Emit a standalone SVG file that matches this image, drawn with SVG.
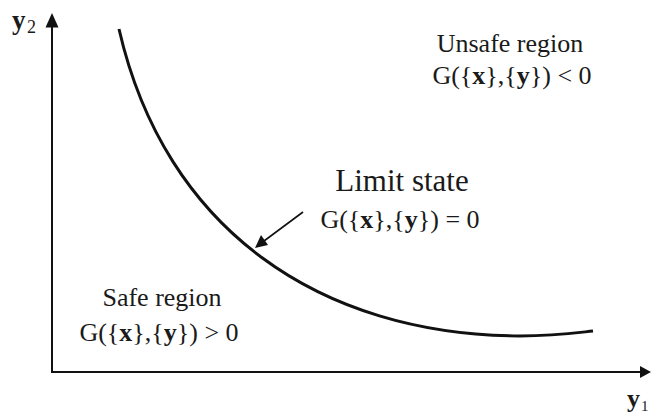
<svg xmlns="http://www.w3.org/2000/svg" width="651" height="414" viewBox="0 0 651 414">
<style>
.t{font-family:"Liberation Serif","Times New Roman",serif;fill:#1a1a1a}
.b{font-weight:bold}
.ax{stroke:#111;stroke-width:2;fill:none}
</style>
<rect width="651" height="414" fill="#fff"/>
<g id="connectors">
<line class="ax" x1="52" y1="26" x2="52" y2="372"/>
<polygon points="52,13 45.5,27.5 58.5,27.5" fill="#111"/>
<line class="ax" x1="51" y1="372" x2="641" y2="372"/>
<polygon points="651,372 640,366 640,378" fill="#111"/>
<line x1="303" y1="212" x2="264" y2="241" stroke="#111" stroke-width="1.6"/>
<polygon points="255,248 261,235 268,245" fill="#111"/>
</g>
<g id="curve">
<path d="M119,29 C165,230 320,335 520,336 C555,336 575,333 593,331" fill="none" stroke="#111" stroke-width="3"/>
</g>
<g id="axis-y2"><text class="t b" x="12" y="29" font-size="27">y</text><text class="t" x="27" y="33" font-size="18">2</text></g>
<g id="axis-y1"><text class="t b" x="627" y="407" font-size="26">y</text><text class="t" x="641" y="411" font-size="15">1</text></g>
<g id="unsafe">
<text class="t" x="510" y="52" font-size="26" text-anchor="middle">Unsafe region</text>
<text class="t" x="512" y="84" font-size="26" text-anchor="middle">G({<tspan class="b">x</tspan>},{<tspan class="b">y</tspan>}) &lt; 0</text>
</g>
<g id="limit">
<text class="t" x="402" y="191" font-size="31" text-anchor="middle">Limit state</text>
<text class="t" x="400" y="228" font-size="26" text-anchor="middle">G({<tspan class="b">x</tspan>},{<tspan class="b">y</tspan>}) = 0</text>
</g>
<g id="safe">
<text class="t" x="162" y="306" font-size="26" text-anchor="middle">Safe region</text>
<text class="t" x="159" y="341" font-size="26" text-anchor="middle">G({<tspan class="b">x</tspan>},{<tspan class="b">y</tspan>}) &gt; 0</text>
</g>
</svg>
